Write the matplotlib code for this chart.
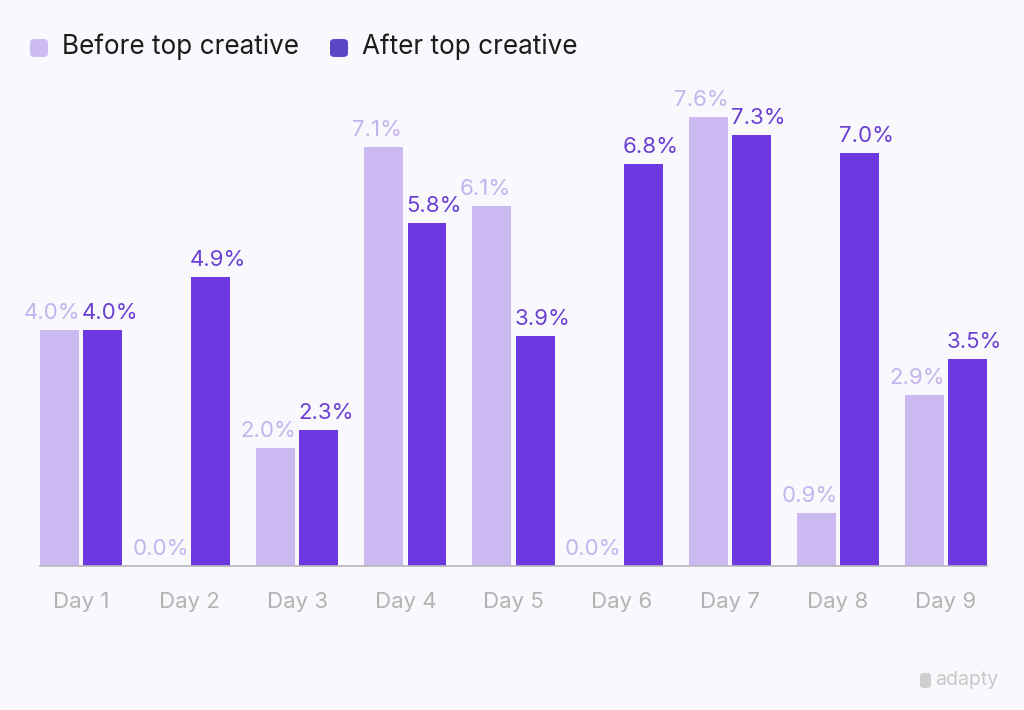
import matplotlib.pyplot as plt
import numpy as np
from matplotlib.patches import FancyBboxPatch

plt.rcParams['font.family'] = ['Inter', 'DejaVu Sans']

days = ["Day 1", "Day 2", "Day 3", "Day 4", "Day 5", "Day 6", "Day 7", "Day 8", "Day 9"]
before = [4.0, 0.0, 2.0, 7.1, 6.1, 0.0, 7.6, 0.9, 2.9]
after = [4.0, 4.9, 2.3, 5.8, 3.9, 6.8, 7.3, 7.0, 3.5]

bg = "#f9f8fc"
c_before = "#cabaf1"
c_after = "#6e38e0"

fig = plt.figure(figsize=(10.24, 7.10), dpi=100, facecolor=bg)
ax = fig.add_axes([0.039, 0.2028, 0.925, 0.673])
ax.set_facecolor(bg)

x = np.arange(len(days))
w = 0.36
off = 0.2
ax.bar(x - off, before, width=w, color=c_before)
ax.bar(x + off, after, width=w, color=c_after)

# value labels, pushed slightly apart like the original
for xi, v in zip(x, before):
    ax.annotate(f"{v:.1f}%", (xi - off, v), xytext=(-5, 5),
                textcoords="offset points", ha="center", va="bottom",
                fontsize=16, color="#c4b4ee")
for xi, v in zip(x, after):
    ax.annotate(f"{v:.1f}%", (xi + off, v), xytext=(5, 5),
                textcoords="offset points", ha="center", va="bottom",
                fontsize=16, color="#6a3fd2")

ax.set_xlim(-0.38, 8.38)
ax.set_ylim(0, 8.09)
ax.set_xticks(x)
ax.set_xticklabels(days, fontsize=16, color="#b3b3b3")
ax.tick_params(axis="x", length=0, pad=19)
ax.set_yticks([])
for s in ["top", "right", "left"]:
    ax.spines[s].set_visible(False)
ax.spines["bottom"].set_color("#b8b8b8")
ax.spines["bottom"].set_linewidth(1.2)

# legend
for px, col, label in [(30, "#ccbcf2", "Before top creative"),
                       (330, "#5a46c6", "After top creative")]:
    box = FancyBboxPatch((px / 1024, 1 - 57 / 710), 18 / 1024, 18 / 710,
                         boxstyle="round,pad=0,rounding_size=0.005",
                         transform=fig.transFigure, facecolor=col,
                         edgecolor="none")
    fig.patches.append(box)
    fig.text((px + 32) / 1024, 1 - 47 / 710, label, fontsize=18.8,
             color="#1c1c1c", va="center", ha="left")

# watermark
logo = FancyBboxPatch((920 / 1024, 1 - 688 / 710), 11 / 1024, 15 / 710,
                      boxstyle="round,pad=0,rounding_size=0.004",
                      transform=fig.transFigure, facecolor="#cfcfcf",
                      edgecolor="none")
fig.patches.append(logo)
fig.text(998 / 1024, 1 - 680 / 710, "adapty", fontsize=14, color="#c8c8c8",
         ha="right", va="center")

fig.savefig("out.png", dpi=100, facecolor=bg)
